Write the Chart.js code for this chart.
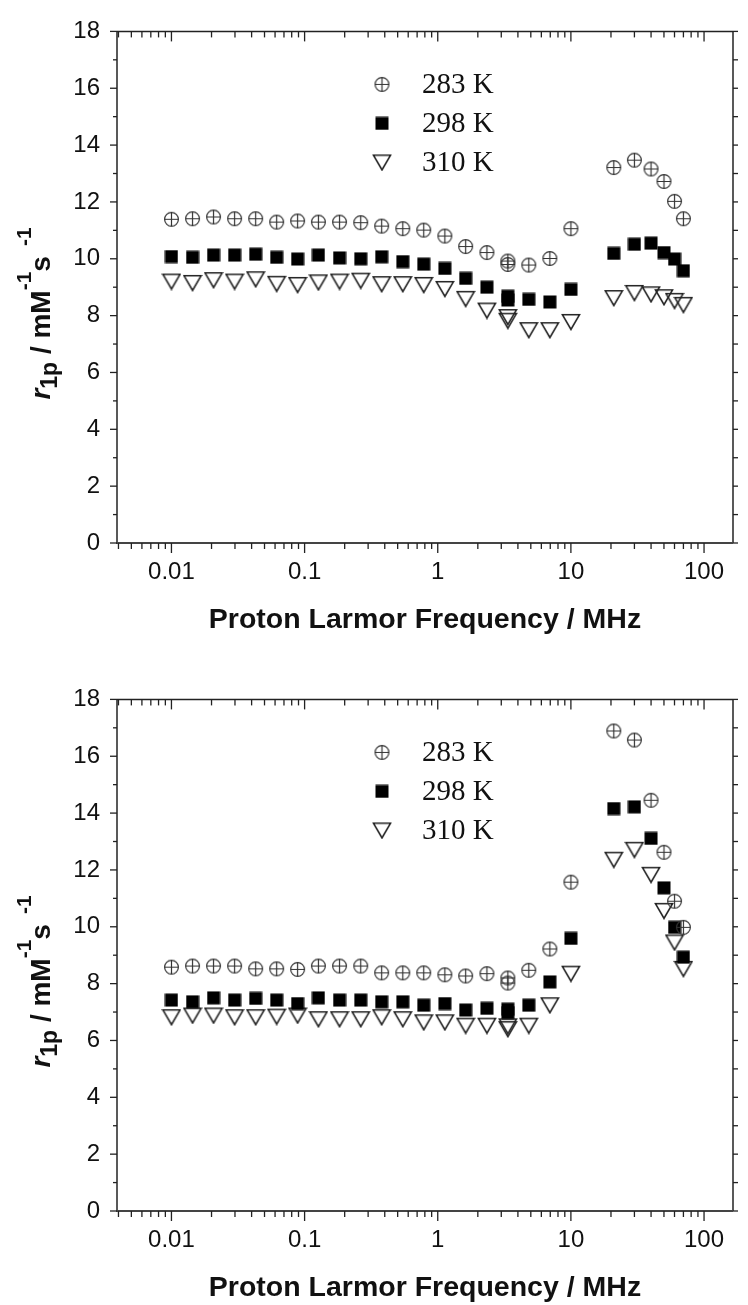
<!DOCTYPE html>
<html><head><meta charset="utf-8">
<script src="https://cdn.jsdelivr.net/npm/chart.js@4"></script>
<style>html,body{margin:0;padding:0;background:#fff;} canvas{display:block;}</style>
</head><body>
<canvas id="c1" width="748" height="668"></canvas>
<canvas id="c2" width="748" height="637"></canvas>
<script>
// ---- data ----
const freqMHz = [0.01, 0.0144, 0.0207, 0.0298, 0.0429, 0.0617, 0.0886, 0.127, 0.183, 0.264,
  0.379, 0.546, 0.785, 1.13, 1.62, 2.34, 3.36, 3.36, 4.83, 6.95, 10.0,
  21, 30, 40, 50, 60, 70];
const seriesLabels = ['283 K', '298 K', '310 K'];

const top283 = [11.39, 11.41, 11.47, 11.41, 11.41, 11.29, 11.33, 11.29, 11.29, 11.27,
  11.15, 11.06, 11.01, 10.80, 10.43, 10.22, 9.92, 9.80, 9.78, 10.01, 11.06,
  13.21, 13.47, 13.16, 12.72, 12.02, 11.41];
const top298 = [10.08, 10.05, 10.13, 10.13, 10.16, 10.05, 9.99, 10.13, 10.03, 10.00,
  10.07, 9.90, 9.81, 9.66, 9.31, 9.00, 8.68, 8.55, 8.57, 8.48, 8.92,
  10.19, 10.51, 10.55, 10.22, 9.99, 9.58];
const top310 = [9.20, 9.15, 9.25, 9.20, 9.28, 9.12, 9.08, 9.17, 9.20, 9.23,
  9.11, 9.11, 9.08, 8.94, 8.59, 8.18, 7.95, 7.82, 7.49, 7.49, 7.78,
  8.62, 8.80, 8.75, 8.65, 8.52, 8.38];

const bot283 = [8.58, 8.62, 8.62, 8.62, 8.52, 8.52, 8.50, 8.62, 8.62, 8.62,
  8.38, 8.38, 8.38, 8.31, 8.27, 8.35, 8.20, 8.02, 8.47, 9.22, 11.57,
  16.89, 16.57, 14.45, 12.62, 10.90, 9.98];
const bot298 = [7.42, 7.36, 7.50, 7.42, 7.48, 7.42, 7.30, 7.50, 7.42, 7.42,
  7.36, 7.36, 7.24, 7.30, 7.07, 7.13, 7.10, 6.98, 7.24, 8.06, 9.59,
  14.16, 14.22, 13.11, 11.37, 9.98, 8.93];
const bot310 = [6.82, 6.88, 6.88, 6.82, 6.82, 6.84, 6.88, 6.75, 6.75, 6.75,
  6.82, 6.75, 6.64, 6.64, 6.52, 6.52, 6.50, 6.40, 6.52, 7.24, 8.35,
  12.36, 12.71, 11.83, 10.56, 9.45, 8.52];

const xTickLabels = ['0.01', '0.1', '1', '10', '100'];
const yMin = 0, yMax = 18, yStep = 2;
const xMin = 0.0039, xMax = 165;
const xTitle = 'Proton Larmor Frequency / MHz';
const yTitleParts = [
  {t: 'r', font: 'italic bold 28px "Liberation Sans"', shift: 0, gap: 0},
  {t: '1p', font: 'bold 23px "Liberation Sans"', shift: 7, gap: 0},
  {t: ' / mM', font: 'bold 28px "Liberation Sans"', shift: 0, gap: 0},
  {t: '-1', font: 'bold 21px "Liberation Sans"', shift: -19, gap: 0},
  {t: 's', font: 'bold 28px "Liberation Sans"', shift: 0, gap: 0},
  {t: '-1', font: 'bold 21px "Liberation Sans"', shift: -19, gap: 10}
];

// ---- marker images ----
function markerCircPlus() {
  const c = document.createElement('canvas'); c.width = 17; c.height = 17;
  const g = c.getContext('2d');
  g.strokeStyle = '#333'; g.lineWidth = 1.2;
  g.beginPath(); g.arc(8.5, 8.5, 6.9, 0, Math.PI * 2); g.stroke();
  g.beginPath(); g.moveTo(1.6, 8.5); g.lineTo(15.4, 8.5); g.moveTo(8.5, 1.6); g.lineTo(8.5, 15.4); g.stroke();
  return c;
}
function markerSquare() {
  const c = document.createElement('canvas'); c.width = 14; c.height = 14;
  const g = c.getContext('2d');
  g.fillStyle = '#000'; g.fillRect(0.5, 0.5, 13, 13);
  return c;
}
function markerTriangle() {
  const c = document.createElement('canvas'); c.width = 20; c.height = 18;
  const g = c.getContext('2d');
  g.strokeStyle = '#222'; g.lineWidth = 1.6; g.lineJoin = 'miter';
  g.beginPath(); g.moveTo(1.5, 1.8); g.lineTo(18.5, 1.8); g.lineTo(10, 16.5); g.closePath(); g.stroke();
  return c;
}
const markers = [markerCircPlus(), markerSquare(), markerTriangle()];

// ---- plugins ----
const framePlugin = {
  id: 'frame',
  beforeDatasetsDraw(chart) {
    const {ctx, chartArea: a, scales: {x, y}} = chart;
    ctx.save();
    ctx.strokeStyle = '#222'; ctx.lineWidth = 1.5;
    const line = (x1, y1, x2, y2) => { ctx.beginPath(); ctx.moveTo(x1, y1); ctx.lineTo(x2, y2); ctx.stroke(); };
    line(a.left, a.top, a.right, a.top);
    line(a.right, a.top, a.right, a.bottom);
    line(a.left, a.top, a.left, a.bottom + 1);
    ctx.strokeStyle = '#444'; ctx.lineWidth = 2;
    line(a.left - 1, a.bottom, a.right, a.bottom);
    ctx.strokeStyle = '#222'; ctx.lineWidth = 1.3;
    for (let e = -3; e <= 2; e++) {
      for (let m = 1; m <= 9; m++) {
        const v = m * Math.pow(10, e);
        if (v < x.min || v > x.max) continue;
        const px = x.getPixelForValue(v);
        const L = m === 1 ? 10 : 6;
        line(px, a.bottom, px, a.bottom + L);
        line(px, a.top, px, a.top + L);
      }
    }
    for (let v = yMin; v <= yMax; v++) {
      const py = y.getPixelForValue(v);
      const L = v % yStep === 0 ? 7 : 4;
      line(a.left - L, py, a.left, py);
      line(a.right, py, a.right + 5, py);
    }
    ctx.restore();
  }
};

const legendPlugin = {
  id: 'innerLegend',
  afterDatasetsDraw(chart) {
    const {ctx, chartArea: a} = chart;
    const mx = a.left + 265;
    const rows = [53, 92, 131];
    ctx.save();
    ctx.font = '29px "Liberation Serif"';
    ctx.fillStyle = '#111';
    ctx.textBaseline = 'middle';
    ctx.textAlign = 'left';
    chart.data.datasets.forEach((ds, i) => {
      const m = ds.pointStyle;
      const yy = a.top + rows[i];
      ctx.drawImage(m, mx - m.width / 2, yy - m.height / 2);
      ctx.fillText(ds.label, mx + 40, yy + 1);
    });
    ctx.restore();
  }
};

const yTitlePlugin = {
  id: 'yTitle',
  afterDraw(chart) {
    const {ctx, chartArea: a} = chart;
    ctx.save();
    let L = 0;
    yTitleParts.forEach(p => { ctx.font = p.font; L += p.gap + ctx.measureText(p.t).width; });
    const startY = a.top + 196 + L;
    ctx.translate(50, startY);
    ctx.rotate(-Math.PI / 2);
    ctx.fillStyle = '#111';
    ctx.textBaseline = 'alphabetic';
    ctx.textAlign = 'left';
    let u = 0;
    yTitleParts.forEach(p => {
      ctx.font = p.font;
      u += p.gap;
      ctx.fillText(p.t, u, p.shift);
      u += ctx.measureText(p.t).width;
    });
    ctx.restore();
  }
};

function makeChart(id, v283, v298, v310, bottomPad) {
  const vals = [v283, v298, v310];
  const datasets = vals.map((v, k) => ({
    label: seriesLabels[k],
    data: freqMHz.map((f, i) => ({x: f, y: v[i]})),
    pointStyle: markers[k],
    pointRadius: 7,
    showLine: false
  }));
  return new Chart(document.getElementById(id), {
    type: 'scatter',
    data: {datasets},
    options: {
      responsive: false,
      animation: false,
      events: [],
      layout: {padding: {top: 27, right: 5, left: 0, bottom: bottomPad}},
      plugins: {legend: {display: false}, tooltip: {enabled: false}},
      scales: {
        x: {
          type: 'logarithmic', min: xMin, max: xMax,
          grid: {display: false, drawTicks: false}, border: {display: false},
          ticks: {
            autoSkip: false, maxRotation: 0, padding: 15, color: '#111',
            font: {family: 'Liberation Sans', size: 24},
            callback: (value) => {
              const lbl = xTickLabels.find(l => Math.abs(Math.log10(parseFloat(l)) - Math.log10(value)) < 1e-6);
              return lbl || '';
            }
          },
          title: {display: true, text: xTitle, color: '#111',
            font: {family: 'Liberation Sans', size: 28.5, weight: 'bold'}, padding: {top: 0, bottom: 0}},
          afterFit: s => { s.height = 94; }
        },
        y: {
          min: yMin, max: yMax,
          grid: {display: false, drawTicks: false}, border: {display: false},
          ticks: {stepSize: yStep, padding: 17, color: '#111', font: {family: 'Liberation Sans', size: 24}},
          afterFit: s => { s.width = 117; }
        }
      }
    },
    plugins: [framePlugin, legendPlugin, yTitlePlugin]
  });
}

makeChart('c1', top283, top298, top310, 31);
makeChart('c2', bot283, bot298, bot310, 0);
</script>
</body></html>
